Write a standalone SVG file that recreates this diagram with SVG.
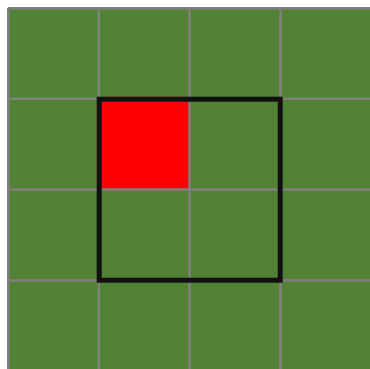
<svg xmlns="http://www.w3.org/2000/svg" width="370" height="369" viewBox="0 0 370 369">
<style>
.grid{stroke:#808080;stroke-width:2.4;fill:none}
</style>
<rect width="370" height="369" fill="#ffffff"/>
<g id="board">
<rect x="8" y="8" width="363" height="363" fill="#548235"/>
<rect x="98.8" y="98.8" width="90.7" height="90.7" fill="#ff0000"/>
<g class="grid">
<line x1="8" y1="8.2" x2="371" y2="8.2"/>
<line x1="8" y1="98.8" x2="371" y2="98.8"/>
<line x1="8" y1="189.5" x2="371" y2="189.5"/>
<line x1="8" y1="280.5" x2="371" y2="280.5"/>
<line x1="8.2" y1="8" x2="8.2" y2="371"/>
<line x1="98.8" y1="8" x2="98.8" y2="371"/>
<line x1="189.5" y1="8" x2="189.5" y2="371"/>
<line x1="280.5" y1="8" x2="280.5" y2="371"/>
</g>
</g>
<g id="selection">
<rect x="99.2" y="99.2" width="181" height="181" fill="none" stroke="#111111" stroke-width="5"/>
</g>
</svg>
